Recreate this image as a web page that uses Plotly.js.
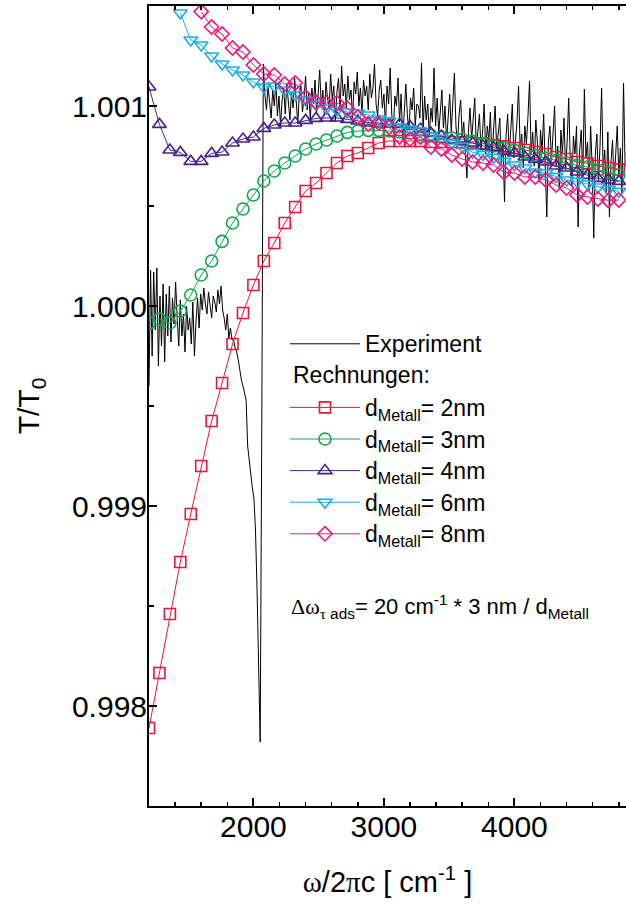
<!DOCTYPE html>
<html>
<head>
<meta charset="utf-8">
<script src="https://cdn.plot.ly/plotly-3.0.1.min.js"></script>
<style>html,body{margin:0;padding:0;background:#fff;overflow:hidden}#chart{width:626px;height:905px}</style>
</head>
<body>
<div id="chart"></div>
<script>
// calculation grid (cm^-1)
const calcX = [1200,1280,1360,1440,1520,1600,1680,1760,1840,1920,2000,2080,2160,2240,2320,2400,2480,2560,2640,2720,2800,2880,2960,3040,3120,3200,3280,3360,3440,3520,3600,3680,3760,3840,3920,4000,4080,4160,4240,4320,4400,4480,4560,4640,4720,4800];

const d2nm = [0.997890,0.998165,0.998460,0.998720,0.998960,0.999200,0.999425,0.999615,0.999810,0.999965,1.000105,1.000225,1.000315,1.000415,1.000495,1.000575,1.000615,1.000665,1.000715,1.000750,1.000765,1.000790,1.000815,1.000825,1.000825,1.000825,1.000825,1.000820,1.000820,1.000820,1.000818,1.000815,1.000813,1.000805,1.000798,1.000790,1.000780,1.000770,1.000760,1.000745,1.000735,1.000720,1.000713,1.000700,1.000690,1.000683];

const d3nm = [0.999915,0.999935,0.999915,0.999975,1.000055,1.000155,1.000225,1.000323,1.000415,1.000485,1.000555,1.000625,1.000675,1.000715,1.000750,1.000785,1.000810,1.000830,1.000850,1.000868,1.000875,1.000878,1.000878,1.000875,1.000870,1.000865,1.000860,1.000853,1.000845,1.000840,1.000833,1.000823,1.000810,1.000800,1.000788,1.000778,1.000765,1.000753,1.000740,1.000728,1.000715,1.000703,1.000695,1.000680,1.000668,1.000655];

const d4nm = [1.001095,1.000908,1.000780,1.000768,1.000723,1.000723,1.000763,1.000770,1.000815,1.000835,1.000845,1.000888,1.000905,1.000915,1.000915,1.000928,1.000938,1.000940,1.000940,1.000933,1.000925,1.000915,1.000910,1.000910,1.000908,1.000898,1.000885,1.000865,1.000850,1.000830,1.000823,1.000815,1.000800,1.000793,1.000773,1.000765,1.000745,1.000733,1.000720,1.000700,1.000690,1.000670,1.000653,1.000638,1.000630,1.000623];

const d6nm = [null,null,null,1.001465,1.001330,1.001305,1.001250,1.001210,1.001180,1.001155,1.001120,1.001095,1.001100,1.001080,1.001055,1.001030,1.001010,1.000990,1.000980,1.000970,1.000965,1.000955,1.000935,1.000925,1.000895,1.000885,1.000875,1.000850,1.000840,1.000815,1.000798,1.000768,1.000758,1.000743,1.000723,1.000705,1.000690,1.000670,1.000665,1.000648,1.000630,1.000623,1.000610,1.000595,1.000583,1.000573];

const d8nm = [null,null,null,null,null,1.001472,1.001395,1.001360,1.001290,1.001270,1.001205,1.001160,1.001155,1.001110,1.001115,1.001045,1.001018,1.001015,1.001015,1.000988,1.000945,1.000910,1.000915,1.000893,1.000845,1.000835,1.000845,1.000795,1.000785,1.000755,1.000735,1.000720,1.000715,1.000705,1.000668,1.000665,1.000645,1.000645,1.000630,1.000605,1.000590,1.000555,1.000545,1.000535,1.000528,1.000530];

// experiment: start 1200 cm^-1, step 12 cm^-1, deviation of T/T0 from 1 in ppm
const expStart = 1200;
const expStep = 12;
const expPPM = [
-400,180,-250,170,-120,190,-300,50,-200,110,
-280,60,-150,100,-180,40,-90,120,-60,-200,
30,-150,-40,-230,0,-120,-60,-190,20,-250,
-80,40,-110,60,-20,90,10,-40,70,0,
-60,50,20,-30,80,10,100,-20,-60,-120,
-40,-160,-110,-170,
-170,-210,-230,-270,-330,-370,-400,-430,-470,-700,-780,-850,-910,-960,-1120,-1420,-1770,-2180,-620,1210,
1060,980,1100,1010,940,1080,1000,1120,950,1050,
900,1030,1090,960,1110,1020,930,1070,990,1140,
1000,910,1060,1100,970,1040,1150,980,1070,930,
1090,1010,1130,960,1060,1180,1000,1080,950,1120,
1040,990,1160,1030,1100,920,1070,1140,980,1200,
1050,1110,990,1150,1030,1080,940,1120,1060,1170,
1000,1090,960,1130,1050,1100,980,1160,1040,1090,
1210,1010,950,1080,1130,990,1060,900,1100,1010,
1190,960,870,1050,1000,1140,920,1060,830,1000,
1110,950,880,1040,980,1090,900,1010,1000,940,1215,
880,1050,930,1010,850,990,920,1190,900,1040,
860,960,1080,890,1000,820,950,1060,870,990,
1165,900,810,960,1030,850,920,760,640,880,
990,830,940,1040,790,900,960,780,870,1010,
760,900,830,970,720,880,1000,790,860,940,
700,830,520,850,960,760,880,1010,740,830,
920,1100,780,860,690,900,810,950,1125,760,
870,700,930,820,620,880,770,960,690,445,
820,900,730,850,1000,700,800,590,880,760,
940,680,820,1040,720,600,850,760,900,395,
780,880,640,1085,740,820,580,900,690,340,
760,860,620,800,1090,680,780,560,870,445,
720,830,610,760,900,650,790,560,1115,700
];
const expY = expPPM.map(v => 1 + v / 1e6);

const names = ['d<sub>Metall</sub>= 2nm','d<sub>Metall</sub>= 3nm','d<sub>Metall</sub>= 4nm','d<sub>Metall</sub>= 6nm','d<sub>Metall</sub>= 8nm'];
const series = [d2nm, d3nm, d4nm, d6nm, d8nm];
const colors = ['#e8173a','#12a650','#47228f','#19aeea','#e9197f'];
const symbols = ['square-open','circle-open','triangle-up-open','triangle-down-open','diamond-open'];
const sizes = [11,12,12,12,11];

const FONT = 'Liberation Sans, Arial, Helvetica, sans-serif';
const big = s => '<span style="font-size:23px">' + s + '</span>';

const traces = [{
  type:'scatter', mode:'lines', name: big('Experiment'),
  x0: expStart, dx: expStep, y: expY,
  line:{color:'#000', width:1},
  legendgroup:'exp'
}];
for (let i = 0; i < series.length; i++) {
  traces.push({
    type:'scatter', mode:'lines+markers', name: big(names[i]),
    x: calcX, y: series[i],
    line:{color:colors[i], width:1},
    marker:{symbol:symbols[i], size:sizes[i], color:colors[i], line:{color:colors[i], width:1.6}},
    legendgroup:'calc'
  });
}

const sym = s => '<span style="font-family:Liberation Serif">' + s + '</span>';

const layout = {
  width:626, height:905,
  margin:{l:149, r:0, t:6, b:99},
  paper_bgcolor:'#fff', plot_bgcolor:'#fff',
  font:{family:FONT, color:'#000'},
  showlegend:true,
  xaxis:{
    range:[1200, 4855], showgrid:false, zeroline:false,
    showline:true, linecolor:'#000', linewidth:2, mirror:'ticks',
    ticks:'inside', ticklen:8, tickwidth:2, tickcolor:'#000',
    dtick:1000, tick0:0, ticklabelstandoff:-7,
    tickfont:{size:30, family:FONT, color:'#000'},
    minor:{dtick:200, ticks:'inside', ticklen:4, tickwidth:1.5, tickcolor:'#000'},
    title:{text: sym('ω') + '/2' + sym('π') + 'c [ cm<sup>-1</sup> ]', font:{size:29, family:FONT, color:'#000'}, standoff:30}
  },
  yaxis:{
    range:[0.9975, 1.0015], showgrid:false, zeroline:false,
    showline:true, linecolor:'#000', linewidth:2, mirror:false,
    ticks:'inside', ticklen:8, tickwidth:2, tickcolor:'#000',
    dtick:0.001, tick0:1, tickformat:'.3f', ticklabelstandoff:-6,
    tickfont:{size:30, family:FONT, color:'#000'},
    minor:{dtick:0.0005, ticks:'inside', ticklen:5, tickwidth:1.5, tickcolor:'#000'},
    title:{text:'T/T<sub>0</sub>', font:{size:30, family:FONT, color:'#000'}, standoff:23}
  },
  legend:{
    x:(285-149)/477, y:(806-323)/800, xanchor:'left', yanchor:'top',
    font:{size:22, family:FONT, color:'#000'},
    itemwidth:70, tracegroupgap:32, traceorder:'grouped',
    bgcolor:'rgba(0,0,0,0)', borderwidth:0
  },
  annotations:[
    {xref:'paper', yref:'paper', x:(291-149)/477, y:(806-375)/800, xanchor:'left', yanchor:'middle',
     text:'Rechnungen:', showarrow:false, font:{size:23, family:FONT, color:'#000'}},
    {xref:'paper', yref:'paper', x:(289-149)/477, y:(806-606)/800, xanchor:'left', yanchor:'middle',
     text: sym('Δω') + '<sub>' + sym('τ') + ' ads</sub>= 20 cm<sup>-1</sup> * 3 nm / d<sub>Metall</sub>', showarrow:false, font:{size:22, family:FONT, color:'#000'}}
  ]
};

Plotly.newPlot('chart', traces, layout, {staticPlot:true, displayModeBar:false});
</script>
</body>
</html>
